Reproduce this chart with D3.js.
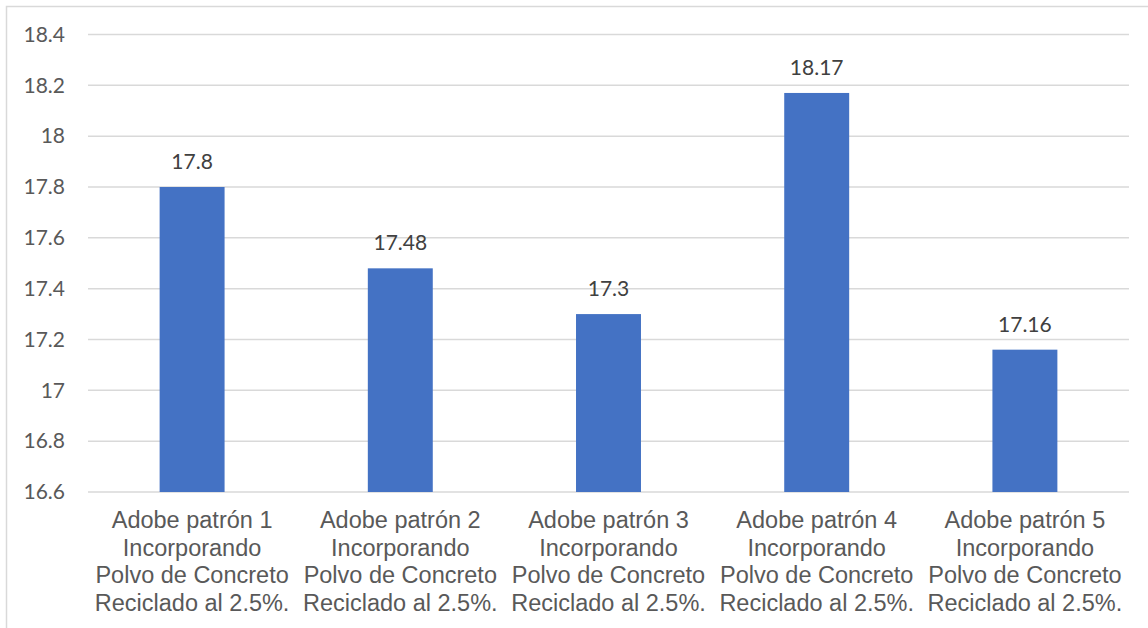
<!DOCTYPE html>
<html>
<head>
<meta charset="utf-8">
<script src="https://cdn.jsdelivr.net/npm/d3@7"></script>
<style>
  html, body { margin: 0; padding: 0; background: #fff; }
  svg { display: block; }
</style>
</head>
<body>
<svg id="chart" width="1148" height="628"></svg>
<script>
// Category labels (each split into lines), bar values and y-axis ticks
const categories = [
  ["Adobe patrón 1", "Incorporando", "Polvo de Concreto", "Reciclado al 2.5%."],
  ["Adobe patrón 2", "Incorporando", "Polvo de Concreto", "Reciclado al 2.5%."],
  ["Adobe patrón 3", "Incorporando", "Polvo de Concreto", "Reciclado al 2.5%."],
  ["Adobe patrón 4", "Incorporando", "Polvo de Concreto", "Reciclado al 2.5%."],
  ["Adobe patrón 5", "Incorporando", "Polvo de Concreto", "Reciclado al 2.5%."]
];
const values = [17.8, 17.48, 17.3, 18.17, 17.16];
const valueLabels = ["17.8", "17.48", "17.3", "18.17", "17.16"];
const yTicks = [16.6, 16.8, 17, 17.2, 17.4, 17.6, 17.8, 18, 18.2, 18.4];
const yTickLabels = ["16.6", "16.8", "17", "17.2", "17.4", "17.6", "17.8", "18", "18.2", "18.4"];

const svg = d3.select("#chart");
const plot = { left: 88, right: 1129, top: 34.5, bottom: 492 };

// Chart area frame (continues past the right and bottom edges)
svg.append("rect")
  .attr("x", 6.5).attr("y", 6.5)
  .attr("width", 1160).attr("height", 640)
  .attr("fill", "#fff")
  .attr("stroke", "#d9d9d9")
  .attr("stroke-width", 1.5);

const x = d3.scaleBand()
  .domain(d3.range(categories.length))
  .range([plot.left, plot.right])
  .paddingInner(0.688)
  .paddingOuter(0.344);

const y = d3.scaleLinear()
  .domain([16.6, 18.4])
  .range([plot.bottom, plot.top]);

// Horizontal gridlines
svg.append("g")
  .selectAll("line")
  .data(yTicks)
  .join("line")
  .attr("x1", plot.left).attr("x2", plot.right)
  .attr("y1", d => y(d)).attr("y2", d => y(d))
  .attr("stroke", "#d9d9d9")
  .attr("stroke-width", 1.5);

// Y-axis tick labels
const yAxis = d3.axisLeft(y)
  .tickValues(yTicks)
  .tickFormat((d, i) => yTickLabels[i])
  .tickSize(0)
  .tickPadding(23);
const gy = svg.append("g")
  .attr("transform", `translate(${plot.left},0)`)
  .call(yAxis);
gy.select(".domain").remove();
gy.selectAll("text")
  .attr("fill", "#595959")
  .style("font-family", "Lato, 'Open Sans', sans-serif")
  .style("font-size", "21px");

// Bars
svg.append("g")
  .selectAll("rect")
  .data(values)
  .join("rect")
  .attr("x", (d, i) => x(i))
  .attr("width", x.bandwidth())
  .attr("y", d => y(d))
  .attr("height", d => y(16.6) - y(d))
  .attr("fill", "#4472c4");

// Value labels above bars
svg.append("g")
  .selectAll("text")
  .data(values)
  .join("text")
  .attr("x", (d, i) => x(i) + x.bandwidth() / 2)
  .attr("y", d => y(d) - 18)
  .attr("text-anchor", "middle")
  .attr("fill", "#404040")
  .style("font-family", "Lato, 'Open Sans', sans-serif")
  .style("font-size", "21px")
  .text((d, i) => valueLabels[i]);

// Multi-line category labels
const xAxis = svg.append("g");
categories.forEach((lines, i) => {
  const t = xAxis.append("text")
    .attr("x", x(i) + x.bandwidth() / 2)
    .attr("y", 528)
    .attr("text-anchor", "middle")
    .attr("fill", "#595959")
    .style("font-family", "'Liberation Sans', Arial, sans-serif")
    .style("font-size", "23.5px");
  lines.forEach((line, j) => {
    t.append("tspan")
      .attr("x", x(i) + x.bandwidth() / 2)
      .attr("y", 528 + j * 27.5)
      .text(line);
  });
});
</script>
</body>
</html>
